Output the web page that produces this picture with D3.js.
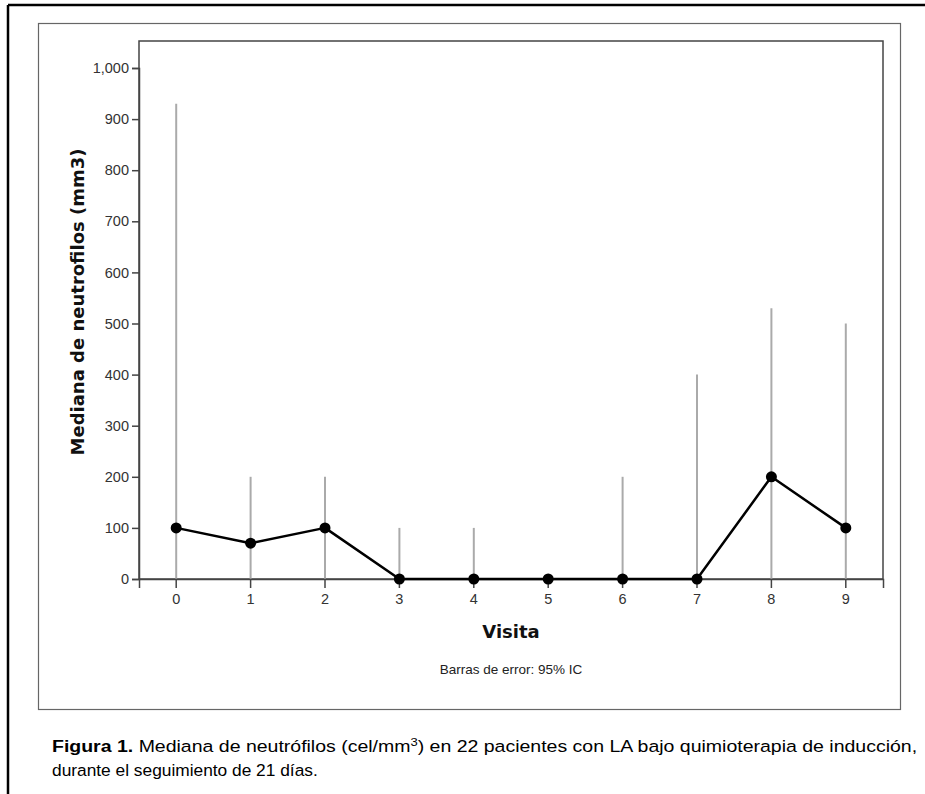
<!DOCTYPE html>
<html><head><meta charset="utf-8">
<script src="https://cdn.jsdelivr.net/npm/d3@7"></script>
<style>body{margin:0;background:#fff}svg{display:block}text{font-family:"Liberation Sans",Arial,sans-serif}</style>
</head><body>
<script>
const visits = ["0","1","2","3","4","5","6","7","8","9"];
const medians = [100, 70, 100, 0, 0, 0, 0, 0, 200, 100];
const ciUpper = [930, 200, 200, 100, 100, 0, 200, 400, 530, 500];
const ciLower = [0, 0, 0, 0, 0, 0, 0, 0, 0, 0];
const yTicks = [0,100,200,300,400,500,600,700,800,900,1000];

const W = 925, H = 794;
const svg = d3.select("body").append("svg").attr("width", W).attr("height", H);

// outer frame
svg.append("line").attr("x1",8).attr("x2",W).attr("y1",5).attr("y2",5).attr("stroke","#000").attr("stroke-width",2.5);
svg.append("line").attr("x1",8).attr("x2",8).attr("y1",5).attr("y2",H).attr("stroke","#000").attr("stroke-width",2.5);
// panel
svg.append("rect").attr("x",38.5).attr("y",23.5).attr("width",862).attr("height",686).attr("fill","none").attr("stroke","#666").attr("stroke-width",1.2);

const L = 139, R = 883, T = 41, B = 579;
const x = d3.scaleBand().domain(visits).range([L, R]);
const y = d3.scaleLinear().domain([0, 1000]).range([B, B - 511]);
const cx = v => x(v) + x.bandwidth()/2;

// plot frame
svg.append("rect").attr("x",L).attr("y",T).attr("width",R-L).attr("height",B-T).attr("fill","none").attr("stroke","#444").attr("stroke-width",1.5);

// error bars
svg.append("g").selectAll("line").data(visits).join("line")
  .attr("x1", d => cx(d)).attr("x2", d => cx(d))
  .attr("y1", (d,i) => y(ciLower[i])).attr("y2", (d,i) => y(ciUpper[i]))
  .attr("stroke","#aaa").attr("stroke-width",2);

// axes
const yAxis = svg.append("g").attr("transform",`translate(${L},0)`)
  .call(d3.axisLeft(y).tickValues(yTicks).tickFormat(d3.format(",")).tickSize(7).tickPadding(3));
const xAxis = svg.append("g").attr("transform",`translate(0,${B})`)
  .call(d3.axisBottom(x).tickSize(9).tickPadding(6));
[yAxis, xAxis].forEach(g => {
  g.select(".domain").attr("stroke","#444").attr("stroke-width",1.5);
  g.selectAll(".tick line").attr("stroke","#444").attr("stroke-width",1.5);
  g.selectAll(".tick text").attr("fill","#333").style("font-size","14.5px").style("font-family","'Liberation Sans',Arial,sans-serif");
});

// median line
const line = d3.line().x((d,i) => cx(visits[i])).y(d => y(d));
svg.append("path").datum(medians).attr("d", line).attr("fill","none").attr("stroke","#000").attr("stroke-width",2.5).attr("stroke-linejoin","round");
svg.append("g").selectAll("circle").data(medians).join("circle")
  .attr("cx",(d,i)=>cx(visits[i])).attr("cy",d=>y(d)).attr("r",5.5).attr("fill","#000");

// axis titles
svg.append("text").attr("transform",`translate(84,302) rotate(-90)`).attr("text-anchor","middle")
  .style("font-family","'DejaVu Sans',sans-serif").style("font-weight","bold").style("font-size","18px").attr("fill","#111")
  .text("Mediana de neutrofilos (mm3)");
svg.append("text").attr("x",(L+R)/2).attr("y",638).attr("text-anchor","middle")
  .style("font-family","'DejaVu Sans',sans-serif").style("font-weight","bold").style("font-size","18px").attr("fill","#111")
  .text("Visita");
svg.append("text").attr("x",(L+R)/2).attr("y",674).attr("text-anchor","middle")
  .style("font-size","13.5px").attr("fill","#222").text("Barras de error: 95% IC");

// caption (horizontally stretched like the reference)
const capG = svg.append("g");
const cap = capG.append("text").attr("x",0).attr("y",752).style("font-size","16.5px").attr("fill","#000");
cap.append("tspan").style("font-weight","bold").text("Figura 1.");
cap.append("tspan").text(" Mediana de neutrófilos (cel/mm");
cap.append("tspan").attr("dy",-6).style("font-size","11px").text("3");
cap.append("tspan").attr("dy",6).text(") en 22 pacientes con LA bajo quimioterapia de inducción,");
capG.attr("transform", `translate(52,0) scale(${866 / cap.node().getComputedTextLength()},1)`);
const cap2G = svg.append("g");
const cap2 = cap2G.append("text").attr("x",0).attr("y",776).style("font-size","16.5px").attr("fill","#000")
  .text("durante el seguimiento de 21 días.");
cap2G.attr("transform", `translate(52,0) scale(${266 / cap2.node().getComputedTextLength()},1)`);
</script>
</body></html>
